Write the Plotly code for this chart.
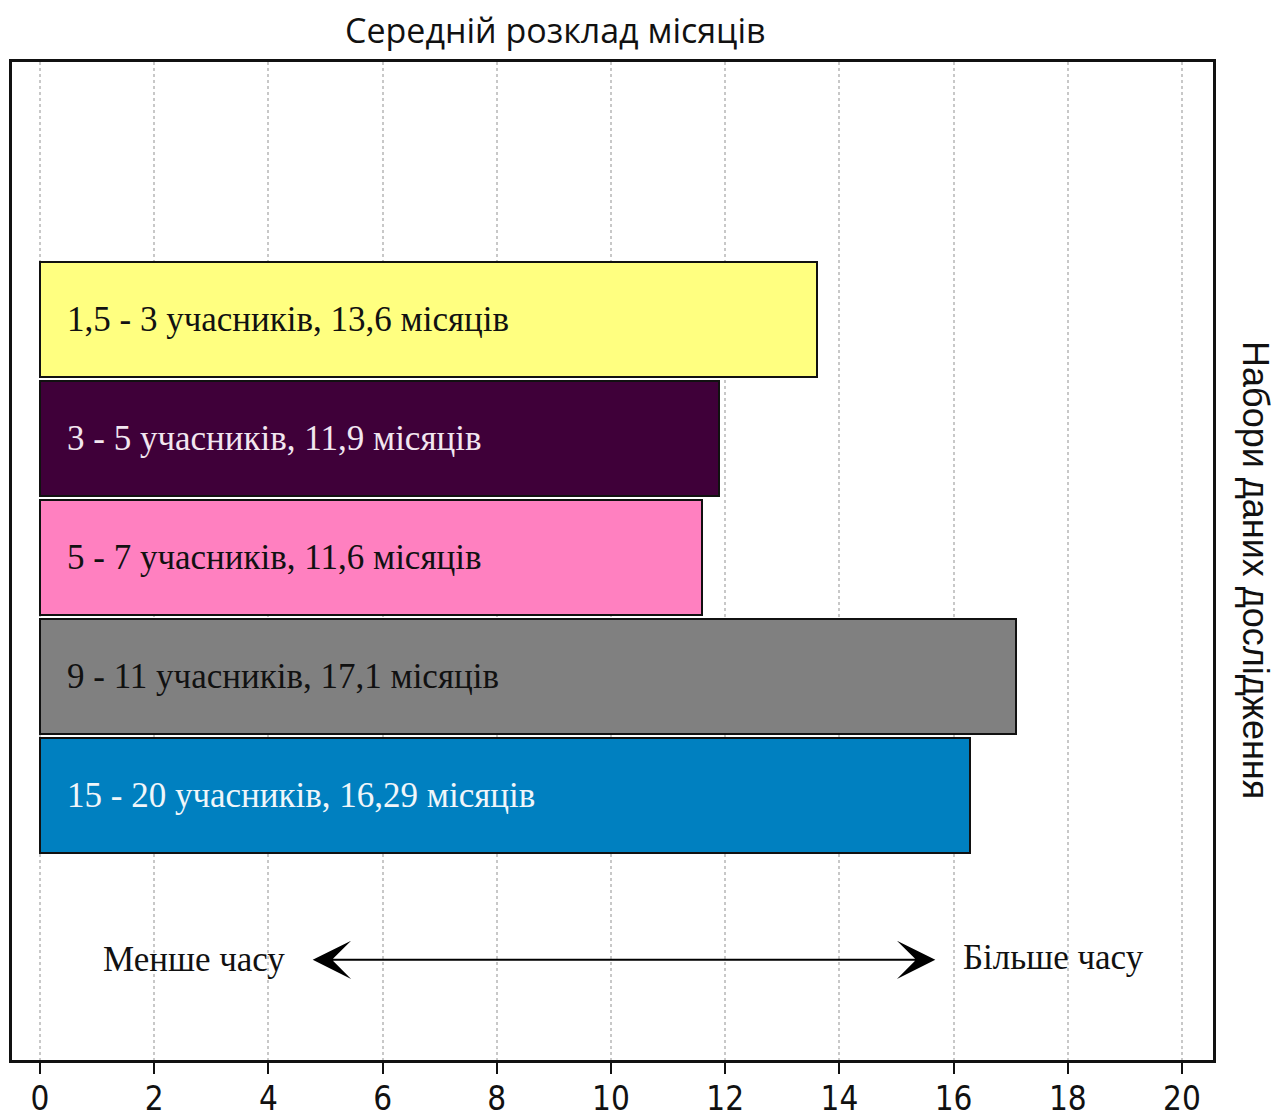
import plotly.graph_objects as go

# ---- data ----
categories = ["1,5 - 3", "3 - 5", "5 - 7", "9 - 11", "15 - 20"]
months = [13.6, 11.9, 11.6, 17.1, 16.29]
bar_labels = [
    "1,5 - 3 учасників, 13,6 місяців",
    "3 - 5 учасників, 11,9 місяців",
    "5 - 7 учасників, 11,6 місяців",
    "9 - 11 учасників, 17,1 місяців",
    "15 - 20 учасників, 16,29 місяців",
]
bar_colors = ["#FFFF80", "#3F0039", "#FF80C0", "#808080", "#0080C0"]
label_colors = ["#111111", "#F2E6F0", "#111111", "#111111", "#F0F6FA"]
x_ticks = list(range(0, 21, 2))
title_text = "Середній розклад місяців"
y_title = "Набори даних дослідження"
less_text = "Менше часу"
more_text = "Більше часу"
arrow_from, arrow_to = 4.75, 15.68
arrow_row = 5.38

serif = "Liberation Serif, Times New Roman, serif"

fig = go.Figure()
fig.add_trace(go.Bar(
    y=categories, x=months, orientation="h",
    marker=dict(color=bar_colors, line=dict(color="#111111", width=2)),
    width=0.965, hoverinfo="skip", showlegend=False,
))

annotations = []
for cat, lab, col in zip(categories, bar_labels, label_colors):
    annotations.append(dict(
        x=0, y=cat, xref="x", yref="y", text=lab, showarrow=False,
        xanchor="left", yanchor="middle", xshift=25,
        font=dict(family=serif, size=35, color=col),
    ))

annotations.append(dict(
    x=arrow_to, y=arrow_row, ax=arrow_from, ay=arrow_row,
    xref="x", yref="y", axref="x", ayref="y", text="",
    showarrow=True, arrowhead=3, arrowside="end+start",
    arrowsize=3.2, arrowwidth=2, arrowcolor="#000000",
))
annotations.append(dict(
    x=arrow_from, y=arrow_row, xref="x", yref="y", text=less_text,
    showarrow=False, xanchor="right", yanchor="middle", xshift=-24,
    font=dict(family=serif, size=35, color="#111111"),
))
annotations.append(dict(
    x=arrow_to, y=arrow_row, xref="x", yref="y", text=more_text,
    showarrow=False, xanchor="left", yanchor="middle", xshift=26, yshift=2,
    font=dict(family=serif, size=35, color="#111111"),
))
annotations.append(dict(
    x=555, y=30, text=title_text, showarrow=False,
    xanchor="center", yanchor="middle",
    font=dict(family="Open Sans, sans-serif", size=34, color="#111111"),
))
annotations.append(dict(
    x=1256, y=570, text=y_title, showarrow=False, textangle=90,
    xanchor="center", yanchor="middle",
    font=dict(family="Liberation Sans, Arial, sans-serif", size=36, color="#111111"),
))

W, H = 1278, 1120
L, R, T, B = 12, 65, 62, 60
# convert pixel-placed title annotations to paper coords
for a in annotations[-2:]:
    a["xref"] = "paper"; a["yref"] = "paper"
    a["x"] = (a["x"] - L) / (W - L - R)
    a["y"] = (H - B - a["y"]) / (H - T - B)

fig.update_layout(
    width=W, height=H,
    margin=dict(l=L, r=R, t=T, b=B, autoexpand=False),
    plot_bgcolor="white", paper_bgcolor="white",
    annotations=annotations,
    bargap=0,
)
fig.update_xaxes(
    range=[-0.49, 20.543], tickvals=x_ticks, ticktext=[str(v) for v in x_ticks],
    showgrid=True, gridcolor="#C8C8C8", griddash="dot", gridwidth=1.5,
    zeroline=False, showline=True, mirror=True, linecolor="#111111", linewidth=2.5,
    ticks="outside", ticklen=11, tickwidth=2, tickcolor="#111111", automargin=False,
    ticklabelstandoff=-3,
    tickfont=dict(family="Liberation Sans Narrow, Arial Narrow, DejaVu Sans Condensed, Liberation Sans, sans-serif", size=33, color="#111111"),
)
fig.update_yaxes(
    type="category", categoryorder="array", categoryarray=categories,
    range=[6.221, -2.158], showticklabels=False, ticks="", automargin=False,
    showgrid=False, zeroline=False,
    showline=True, mirror=True, linecolor="#111111", linewidth=2.5,
)

fig.write_html("out.html")
